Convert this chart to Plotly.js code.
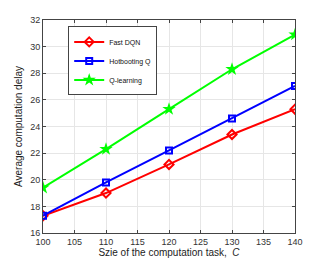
<!DOCTYPE html>
<html><head><meta charset="utf-8">
<script src="https://cdn.plot.ly/plotly-3.0.1.min.js"></script>
<style>html,body{margin:0;padding:0;background:#fff}#c{width:327px;height:262px}</style>
</head><body><div id="c"></div>
<script>
const taskSize = [100, 110, 120, 130, 140];
const fastDQN = [17.3, 19.0, 21.15, 23.4, 25.3];
const hotbootingQ = [17.3, 19.8, 22.2, 24.6, 27.05];
const qLearning = [19.4, 22.3, 25.3, 28.3, 30.9];
const seriesNames = ['Fast DQN', 'Hotbooting Q', 'Q-learning'];

const traces = [
  {x: taskSize, y: fastDQN, name: seriesNames[0], mode: 'lines+markers',
   line: {color: '#ff0000', width: 2}, marker: {symbol: 'diamond-open', size: 7, color: '#ff0000', line: {width: 2}}},
  {x: taskSize, y: hotbootingQ, name: seriesNames[1], mode: 'lines+markers',
   line: {color: '#0000ff', width: 2}, marker: {symbol: 'square-open', size: 6, color: '#0000ff', line: {width: 2}}},
  {x: taskSize, y: qLearning, name: seriesNames[2], mode: 'lines+markers',
   line: {color: '#00ff00', width: 2}, marker: {symbol: 'star', size: 10, color: '#00ff00'}}
];
const axisCommon = {showline: true, mirror: 'ticks', linecolor: '#444', linewidth: 1,
  ticks: 'inside', ticklen: 3, tickcolor: '#444', gridcolor: '#e6e6e6', zeroline: false,
  tickfont: {family: 'Liberation Sans, Arial, sans-serif', size: 9, color: '#333'}};
const layout = {
  width: 327, height: 262,
  margin: {l: 43, r: 32, t: 20, b: 29},
  paper_bgcolor: '#fff', plot_bgcolor: '#fff',
  showlegend: true,
  legend: {x: 0.1, y: 0.97, xanchor: 'left', yanchor: 'top', bgcolor: '#fff',
    bordercolor: '#444', borderwidth: 1, tracegroupgap: 0,
    font: {family: 'Liberation Sans, Arial, sans-serif', size: 7, color: '#111'}, itemwidth: 30},
  xaxis: Object.assign({}, axisCommon, {range: [100, 140], dtick: 5,
    title: {text: 'Szie of the computation task,  <i>C</i>', standoff: 3,
      font: {family: 'Liberation Sans, Arial, sans-serif', size: 10, color: '#222'}}}),
  yaxis: Object.assign({}, axisCommon, {range: [16, 32], dtick: 2,
    title: {text: 'Average computation delay', standoff: 5,
      font: {family: 'Liberation Sans, Arial, sans-serif', size: 10, color: '#222'}}})
};
Plotly.newPlot('c', traces, layout, {displayModeBar: false, staticPlot: true});
</script></body></html>
